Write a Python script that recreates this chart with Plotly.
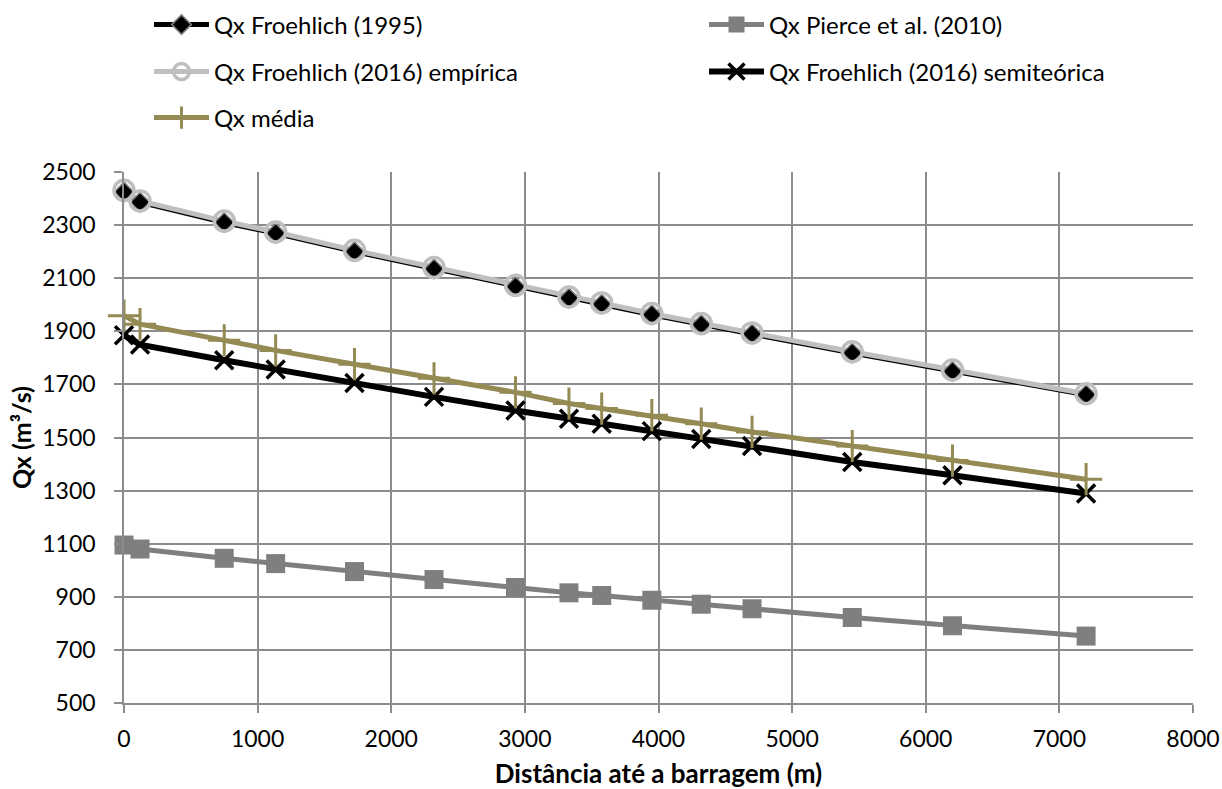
import plotly.graph_objects as go

# ---- data ----
distancia = [0, 120, 750, 1135, 1725, 2320, 2930, 3330, 3575, 3950, 4320, 4700, 5450, 6200, 7200]
qx_froehlich_1995 = [2425, 2386, 2310, 2269, 2200, 2135, 2068, 2025, 2002, 1962, 1925, 1890, 1818, 1749, 1661]
qx_pierce_2010 = [1095, 1080, 1045, 1025, 995, 965, 935, 915, 905, 887, 872, 855, 822, 791, 752]
qx_froehlich_2016_emp = [2431, 2391, 2315, 2274, 2205, 2140, 2073, 2029, 2007, 1967, 1929, 1894, 1823, 1754, 1665]
qx_froehlich_2016_semi = [1885, 1850, 1791, 1756, 1705, 1653, 1602, 1571, 1552, 1524, 1494, 1468, 1408, 1358, 1289]
qx_media = [1959, 1927, 1866, 1828, 1776, 1723, 1670, 1628, 1609, 1584, 1552, 1521, 1468, 1413, 1343]

series_names = ["Qx Froehlich (1995)", "Qx Pierce et al. (2010)",
                "Qx Froehlich (2016) empírica", "Qx Froehlich (2016) semiteórica",
                "Qx média"]
series_values = [qx_froehlich_1995, qx_pierce_2010, qx_froehlich_2016_emp,
                 qx_froehlich_2016_semi, qx_media]

# ---- styles ----
line_styles = [
    dict(color="#000000", width=5),
    dict(color="#7F7F7F", width=5),
    dict(color="#BFBFBF", width=5),
    dict(color="#000000", width=6),
    dict(color="#948A54", width=5),
]
marker_styles = [
    dict(symbol="diamond", size=15, color="#000000", line=dict(color="#808080", width=1.5)),
    dict(symbol="square", size=19, color="#7F7F7F", line=dict(width=0)),
    dict(symbol="circle", size=20, color="rgba(0,0,0,0)", line=dict(color="#BFBFBF", width=3.5)),
    dict(symbol="x-thin", size=18, color="#000000", line=dict(color="#000000", width=3.5)),
    dict(symbol="cross-thin", size=23, color="#948A54", line=dict(color="#948A54", width=3)),
]

W, H = 1222, 789
L, R, T, B = 124, 1193, 172, 702.7
FONT = "Lato"
FS = 24      # legend text
TFS = 23     # tick labels

fig = go.Figure()

# lines first (as Excel draws), then markers on top
for name, vals, ls in zip(series_names, series_values, line_styles):
    fig.add_trace(go.Scatter(x=distancia, y=vals, mode="lines", line=ls,
                             showlegend=False, hoverinfo="skip", name=name))
for name, vals, ms in zip(series_names, series_values, marker_styles):
    fig.add_trace(go.Scatter(x=distancia, y=vals, mode="markers", marker=ms,
                             cliponaxis=False, showlegend=False, name=name))

# legend entries (each in its own legend box to place it like the reference)
legend_pos = [(213, 25), (768, 25), (213, 72), (768, 72), (213, 118)]
legend_keys = ["legend", "legend2", "legend3", "legend4", "legend5"]
ITEMW = 55
for name, ls, ms, key in zip(series_names, line_styles, marker_styles, legend_keys):
    lms = dict(ms)
    lms["size"] = min(ms["size"], 16)
    fig.add_trace(go.Scatter(x=[None], y=[None], mode="lines+markers", line=ls,
                             marker=lms, name=name, legend=key))

layout_legends = {}
for (tx, ty), key in zip(legend_pos, legend_keys):
    layout_legends[key] = dict(
        x=(tx - ITEMW - 9) / W, xanchor="left", xref="container",
        y=1 - ty / H, yanchor="middle", yref="container",
        orientation="h", bgcolor="rgba(0,0,0,0)", borderwidth=0,
        font=dict(family=FONT, size=FS, color="#000000"),
        itemwidth=ITEMW,
    )

fig.update_layout(
    width=W, height=H,
    margin=dict(l=L, r=W - R, t=T, b=H - B, pad=0, autoexpand=False),
    paper_bgcolor="white", plot_bgcolor="white",
    font=dict(family=FONT, size=FS, color="#000000"),
    **layout_legends,
)

axis_common = dict(
    showgrid=True, gridcolor="#8C8C8C", gridwidth=1.5,
    showline=True, linecolor="#8C8C8C", linewidth=1.5,
    ticks="outside", ticklen=8, tickcolor="#8C8C8C", tickwidth=1.5,
    zeroline=False, mirror=False, automargin=False,
    tickfont=dict(family=FONT, size=TFS, color="#000000"),
)

fig.update_xaxes(
    range=[0, 8000], dtick=1000, tick0=0, **axis_common,
    ticklabelstandoff=7,
    title=dict(text="<b>Distância até a barragem (m)</b>",
               font=dict(family=FONT, size=26, color="#000000"), standoff=30),
)
fig.update_yaxes(
    range=[500, 2500], dtick=200, tick0=500, **axis_common,
    ticklabelstandoff=14,
    title=dict(text="<b>Qx (m³/s)</b>",
               font=dict(family=FONT, size=25, color="#000000"), standoff=4),
)

fig.write_html("out.html")
